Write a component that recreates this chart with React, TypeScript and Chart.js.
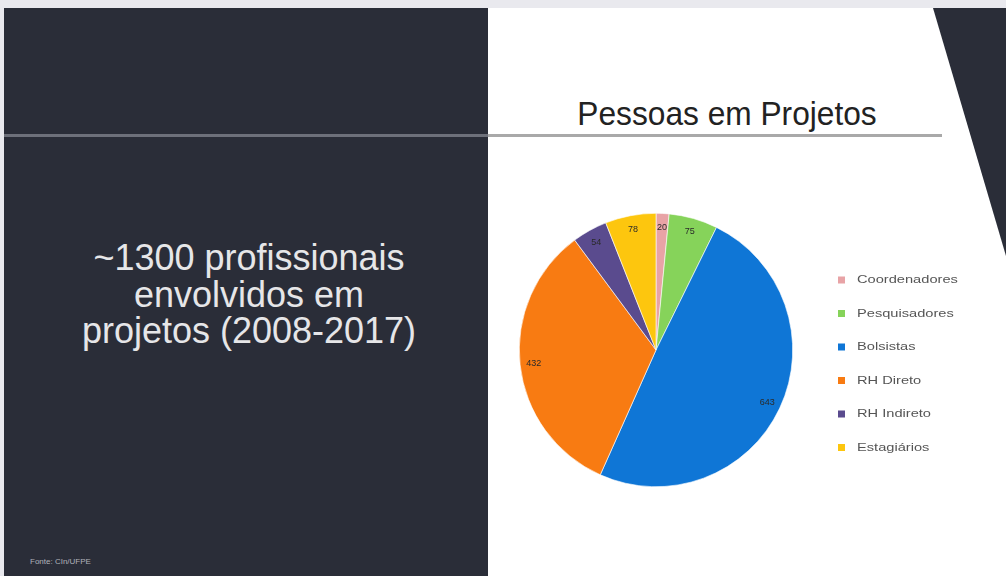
import React, { useEffect, useRef } from "react";
import { Chart, registerables } from "chart.js";

Chart.register(...registerables);

const categories = ["Coordenadores", "Pesquisadores", "Bolsistas", "RH Direto", "RH Indireto", "Estagiários"];
const values = [20, 75, 643, 432, 54, 78];
const colors = ["#e8a3a6", "#86d35a", "#0f76d6", "#f87b12", "#5a4b8e", "#fdc60e"];
const title = "Pessoas em Projetos";
const leftLines = ["~1300 profissionais", "envolvidos em", "projetos (2008-2017)"];
const footer = "Fonte: CIn/UFPE";

const FONT = "'Liberation Sans', Arial, Helvetica, sans-serif";

const labelPlugin = {
  id: "sliceLabels",
  afterDatasetsDraw(chart: any) {
    const ctx = chart.ctx;
    const meta = chart.getDatasetMeta(0);
    ctx.save();
    ctx.font = `9px ${FONT}`;
    ctx.fillStyle = "#2a2a2a";
    ctx.textAlign = "center";
    ctx.textBaseline = "middle";
    meta.data.forEach((arc: any, i: number) => {
      const mid = (arc.startAngle + arc.endAngle) / 2;
      const r = arc.outerRadius * 0.9;
      ctx.fillText(String(values[i]), arc.x + Math.cos(mid) * r, arc.y + Math.sin(mid) * r);
    });
    ctx.restore();
  },
};

const legendPlugin = {
  id: "customLegend",
  afterDraw(chart: any) {
    const ctx = chart.ctx;
    ctx.save();
    ctx.textBaseline = "middle";
    ctx.textAlign = "left";
    const x0 = 350;
    const y0 = 140;
    const step = 33.5;
    const sx = 1.33;
    categories.forEach((c, i) => {
      const y = y0 + i * step;
      ctx.fillStyle = colors[i];
      ctx.fillRect(x0, y - 3.5, 7, 7);
      ctx.save();
      ctx.translate(x0 + 19, y);
      ctx.scale(sx, 1);
      ctx.font = `11px ${FONT}`;
      ctx.fillStyle = "#555";
      ctx.fillText(c, 0, 0);
      ctx.restore();
    });
    ctx.restore();
  },
};

function PieChart() {
  const ref = useRef<HTMLCanvasElement>(null);
  useEffect(() => {
    if (!ref.current) return;
    const chart = new Chart(ref.current, {
      type: "pie",
      data: {
        labels: categories,
        datasets: [
          {
            data: values,
            backgroundColor: colors,
            borderColor: "#ffffff",
            borderWidth: 0.6,
          },
        ],
      },
      options: {
        animation: false,
        responsive: false,
        maintainAspectRatio: false,
        layout: { padding: { left: 31, top: 73, right: 195, bottom: 89 } },
        plugins: {
          legend: { display: false },
          tooltip: { enabled: false },
          title: { display: false },
        },
      },
      plugins: [labelPlugin, legendPlugin],
    });
    return () => chart.destroy();
  }, []);
  return (
    <canvas
      ref={ref}
      width={500}
      height={436}
      style={{ position: "absolute", left: 488, top: 140, width: 500, height: 436 }}
    />
  );
}

export default function App() {
  useEffect(() => {
    document.body.style.margin = "0";
  }, []);
  return (
    <div
      style={{
        position: "fixed",
        left: 0,
        top: 0,
        width: 1006,
        height: 576,
        background: "#e9e9ee",
        overflow: "hidden",
        fontFamily: FONT,
      }}
    >
      <div style={{ position: "absolute", left: 4, top: 8, width: 484, height: 568, background: "#2a2d38" }} />
      <div style={{ position: "absolute", left: 488, top: 8, width: 518, height: 568, background: "#ffffff" }} />
      <svg width={1006} height={576} style={{ position: "absolute", left: 0, top: 0 }}>
        <polygon points="933,8 1006,8 1006,256" fill="#2a2d38" />
      </svg>
      <div style={{ position: "absolute", left: 4, top: 134, width: 484, height: 3, background: "#6d707a" }} />
      <div style={{ position: "absolute", left: 488, top: 134, width: 454, height: 3, background: "#a9a9a9" }} />
      <div
        style={{
          position: "absolute",
          left: 488,
          width: 478,
          top: 95,
          textAlign: "center",
          fontSize: 33,
          lineHeight: "38px",
          color: "#222",
          whiteSpace: "nowrap",
          transform: "scaleX(0.96)",
          transformOrigin: "239px 0",
        }}
      >
        {title}
      </div>
      <div
        style={{
          position: "absolute",
          left: 4,
          width: 490,
          top: 240,
          textAlign: "center",
          fontSize: 36,
          lineHeight: "36.5px",
          color: "#e6e6e8",
          whiteSpace: "nowrap",
        }}
      >
        {leftLines.map((l, i) => (
          <div key={i}>{l}</div>
        ))}
      </div>
      <div style={{ position: "absolute", left: 30, top: 557, fontSize: 8, color: "#b0b2b8" }}>{footer}</div>
      <PieChart />
    </div>
  );
}
